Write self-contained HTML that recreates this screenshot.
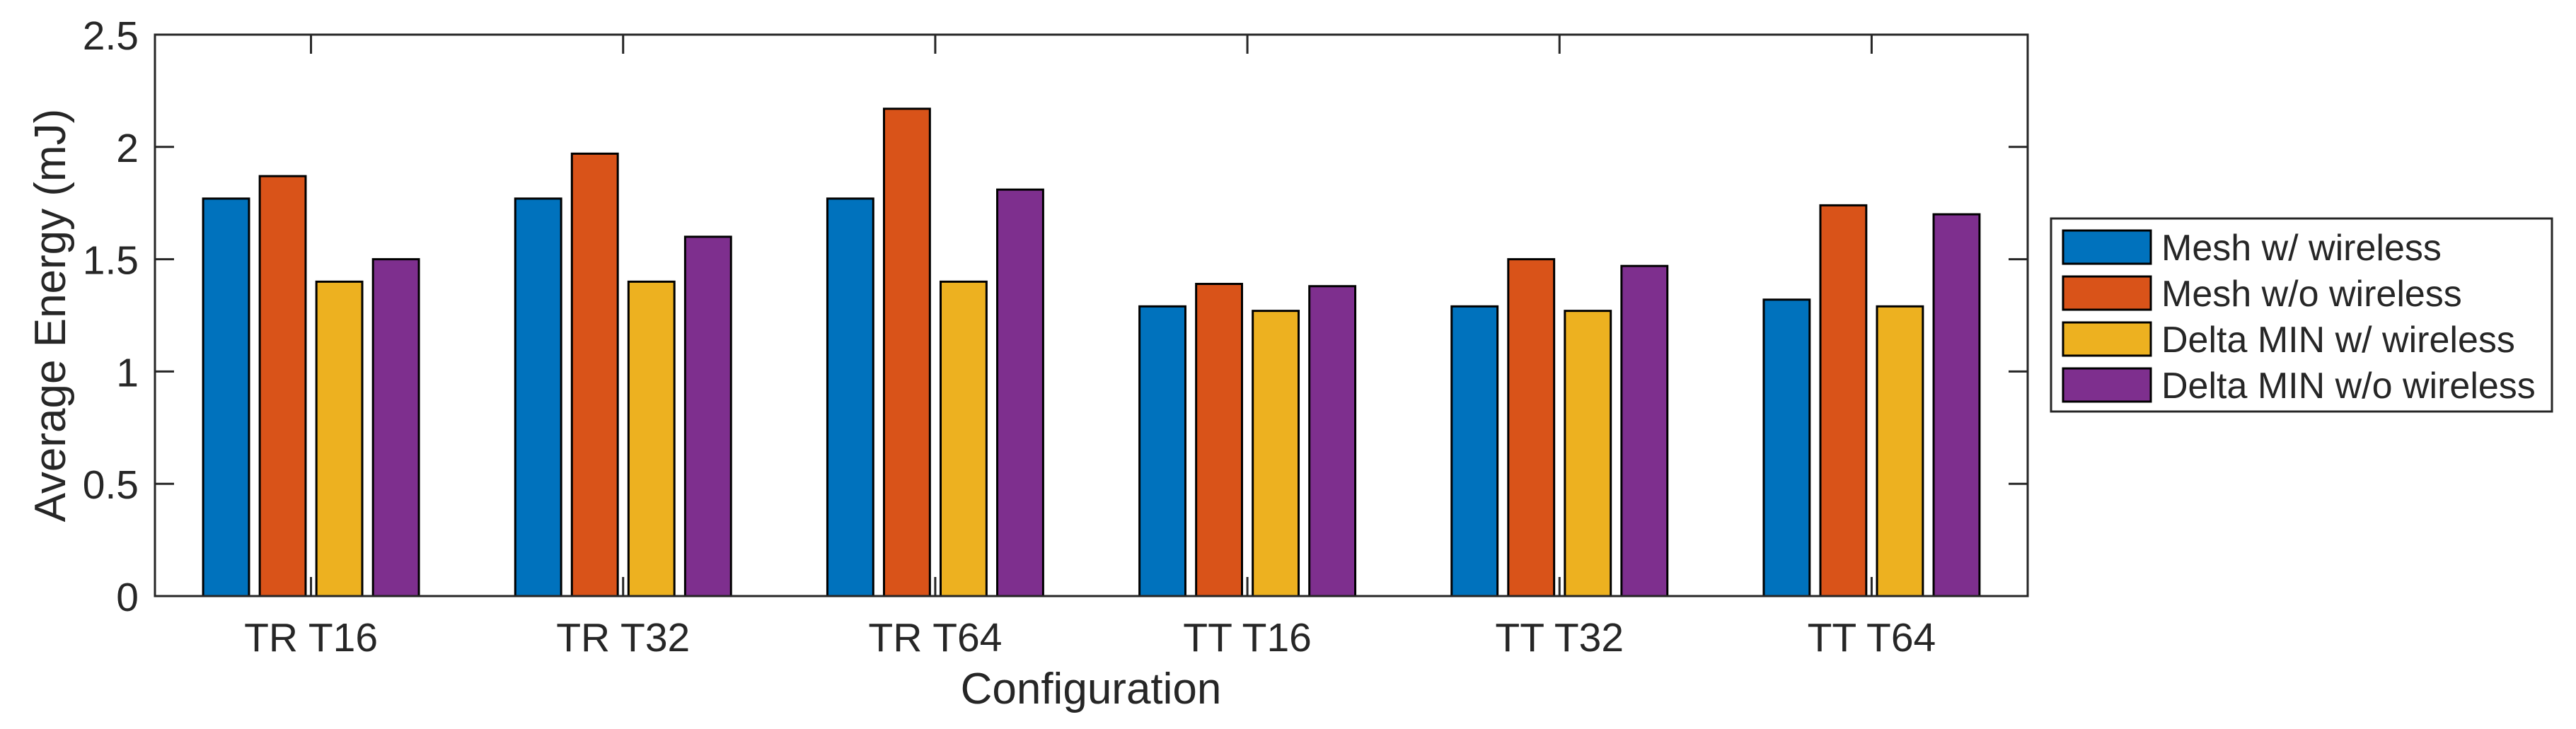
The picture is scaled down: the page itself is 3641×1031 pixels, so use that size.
<!DOCTYPE html>
<html><head><meta charset="utf-8"><style>body{margin:0;background:#fff}svg{display:block}text{font-family:"Liberation Sans",sans-serif;fill:#262626}</style></head>
<body>
<svg id="chart" width="3641" height="1031" viewBox="0 0 3641 1031" xmlns="http://www.w3.org/2000/svg">
<rect width="3641" height="1031" fill="#fff"/>
<g id="bars"></g>
<g id="axes"></g>
<text x="1542" y="995" font-size="62" text-anchor="middle">Configuration</text>
<text transform="translate(92,446) rotate(-90)" font-size="62" text-anchor="middle">Average Energy (mJ)</text>
<g id="legend"></g>
</svg>
<script>
const categories = ["TR T16","TR T32","TR T64","TT T16","TT T32","TT T64"];
const seriesNames = ["Mesh w/ wireless","Mesh w/o wireless","Delta MIN w/ wireless","Delta MIN w/o wireless"];
const meshWireless = [1.77,1.77,1.77,1.29,1.29,1.32];
const meshNoWireless = [1.87,1.97,2.17,1.39,1.50,1.74];
const deltaWireless = [1.40,1.40,1.40,1.27,1.27,1.29];
const deltaNoWireless = [1.50,1.60,1.81,1.38,1.47,1.70];
const yTicks = [0,0.5,1,1.5,2,2.5];
const yTickLabels = ["0","0.5","1","1.5","2","2.5"];

const series = [meshWireless, meshNoWireless, deltaWireless, deltaNoWireless];
const colors = ["#0072BD","#D95319","#EDB120","#7E2F8E"];
const NS = "http://www.w3.org/2000/svg";
const L = 219, R = 2866, T = 49, B = 843;
const yMax = 2.5;
const xScale = i => L + (R - L) * (i + 0.5) / categories.length;
const yScale = v => B - (B - T) * v / yMax;
const step = (R - L) / categories.length;
const offsets = [-120/441, -40/441, 40/441, 120/441];
const barW = 0.147 * step;

function mk(tag, attrs, parent) {
  const e = document.createElementNS(NS, tag);
  for (const k in attrs) e.setAttribute(k, attrs[k]);
  parent.appendChild(e);
  return e;
}
const barsG = document.getElementById('bars');
series.forEach((s, si) => {
  s.forEach((v, ci) => {
    const cx = xScale(ci) + offsets[si] * step;
    const r = mk('rect', {x: cx - barW/2, y: yScale(v), width: barW, height: yScale(0) - yScale(v), fill: colors[si], stroke: '#000', 'stroke-width': 3}, barsG);
    
    
  });
});

const ax = document.getElementById('axes');
const frame = mk('rect', {x: L, y: T, width: R - L, height: B - T, fill: 'none', stroke: '#262626', 'stroke-width': 3}, ax);


yTicks.forEach((v, i) => {
  const y = yScale(v);
  mk('line', {x1: L, x2: L + 27, y1: y, y2: y, stroke: '#262626', 'stroke-width': 3}, ax);
  mk('line', {x1: R, x2: R - 27, y1: y, y2: y, stroke: '#262626', 'stroke-width': 3}, ax);
  const t = mk('text', {x: 196, y: y + 21, 'font-size': 57, 'text-anchor': 'end'}, ax);
  t.textContent = yTickLabels[i];
  
  
});
categories.forEach((c, i) => {
  const x = xScale(i);
  mk('line', {x1: x, x2: x, y1: B, y2: B - 27, stroke: '#262626', 'stroke-width': 3}, ax);
  mk('line', {x1: x, x2: x, y1: T, y2: T + 27, stroke: '#262626', 'stroke-width': 3}, ax);
  const t = mk('text', {x: x, y: 921, 'font-size': 57, 'text-anchor': 'middle'}, ax);
  t.textContent = c;
  
  
});

const lg = document.getElementById('legend');
const box = mk('rect', {x: 2899, y: 309, width: 708, height: 273, fill: '#fff', stroke: '#262626', 'stroke-width': 3}, lg);


seriesNames.forEach((n, i) => {
  const y = 326 + i * 65;
  const sw = mk('rect', {x: 2916, y: y, width: 124, height: 47, fill: colors[i], stroke: '#000', 'stroke-width': 3}, lg);
  
  
  const t = mk('text', {x: 3055, y: y + 42, 'font-size': 52, fill: '#000'}, lg);
  t.textContent = n;
  
  
});
</script>
</body></html>
